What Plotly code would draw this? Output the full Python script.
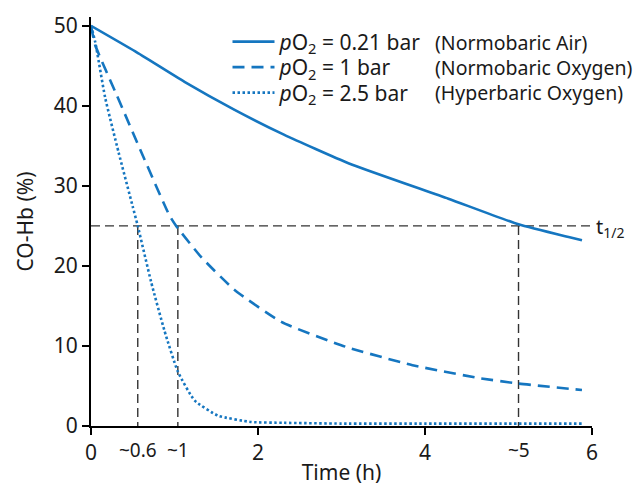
import plotly.graph_objects as go

# ---- data ----
t_air = [0, 0.53, 1.12, 1.72, 2.31, 3.09, 4.28, 5.12, 5.72, 5.88]
co_air = [50, 46.8, 43.0, 39.5, 36.4, 32.8, 28.4, 25.2, 23.6, 23.2]

t_nbo = [0, 0.05, 0.31, 0.62, 0.94, 1.02, 1.32, 1.72, 2.28, 3.05, 3.85, 4.64, 5.12, 5.88]
co_nbo = [50, 47.6, 41.3, 33.8, 26.3, 25.0, 21.1, 17.0, 13.0, 9.9, 7.6, 6.0, 5.3, 4.5]

t_hbo = [0, 0.05, 0.17, 0.33, 0.5, 0.56, 0.72, 0.88, 1.04, 1.24, 1.52, 1.92, 2.31, 3.0, 4.0, 5.0, 5.88]
co_hbo = [50, 48.0, 41.0, 34.2, 27.4, 25.0, 18.0, 11.9, 6.8, 3.2, 1.3, 0.5, 0.4, 0.3, 0.3, 0.3, 0.3]

half_level = 25
half_times = [0.56, 1.04, 5.12]
half_labels = ["~0.6", "~1", "~5"]

x_ticks = [0, 2, 4, 6]
y_ticks = [0, 10, 20, 30, 40, 50]

series_names = [
    "<i>p</i>O<sub>2</sub> = 0.21 bar",
    "<i>p</i>O<sub>2</sub> = 1 bar",
    "<i>p</i>O<sub>2</sub> = 2.5 bar",
]
series_desc = ["(Normobaric Air)", "(Normobaric Oxygen)", "(Hyperbaric Oxygen)"]

BLUE = "#1576c0"
FONT = "Noto Sans"
TXT = "#1a1a1a"

# layout geometry (pixels)
L, R, T, B = 91, 46, 17, 60
W, H = 638, 486
PW, PH = W - L - R, H - T - B
row_px = [42, 67.5, 93]          # legend row centres (px from top)
legend_left_px = 227.5
desc_left_px = 433


def py(p):
    return (H - B - p) / PH


def px(p):
    return (p - L) / PW


fig = go.Figure()

# reference lines (half-life)
fig.add_trace(go.Scatter(x=[0, 5.98], y=[half_level, half_level], mode="lines",
                         line=dict(color="#333333", width=1.4, dash="9px,5px"),
                         showlegend=False, hoverinfo="skip"))
vx, vy = [], []
for t in half_times:
    vx += [t, t, None]
    vy += [half_level, 0, None]
fig.add_trace(go.Scatter(x=vx, y=vy, mode="lines",
                         line=dict(color="#333333", width=1.4, dash="9px,5px"),
                         showlegend=False, hoverinfo="skip"))

fig.add_trace(go.Scatter(x=t_air, y=co_air, mode="lines", name=series_names[0], legend="legend",
                         line=dict(color=BLUE, width=2.6, shape="spline", smoothing=0.5)))
fig.add_trace(go.Scatter(x=t_nbo, y=co_nbo, mode="lines", name=series_names[1], legend="legend2",
                         line=dict(color=BLUE, width=2.6, dash="12px,7px", shape="spline", smoothing=0.5)))
fig.add_trace(go.Scatter(x=t_hbo, y=co_hbo, mode="lines", name=series_names[2], legend="legend3",
                         line=dict(color=BLUE, width=2.6, dash="2.5px,2.5px", shape="spline", smoothing=0.5)))

annotations = []
for t, lab in zip(half_times, half_labels):
    annotations.append(dict(x=t, y=0, xref="x", yref="y", text=lab, showarrow=False,
                            xanchor="center", yanchor="top", yshift=-9,
                            font=dict(family=FONT, size=19, color=TXT)))
annotations.append(dict(x=6, y=half_level, xref="x", yref="y", text="t<sub>1/2</sub>",
                        showarrow=False, xanchor="left", yanchor="middle", xshift=2, yshift=-2,
                        font=dict(family=FONT, size=20, color=TXT)))
for desc, rp in zip(series_desc, row_px):
    annotations.append(dict(x=px(desc_left_px), y=py(rp), xref="paper", yref="paper", text=desc,
                            showarrow=False, xanchor="left", yanchor="middle",
                            font=dict(family=FONT, size=19.5, color=TXT)))

legend_common = dict(x=px(legend_left_px), xanchor="left", yanchor="middle",
                     bgcolor="rgba(0,0,0,0)", font=dict(family=FONT, size=21, color=TXT),
                     itemwidth=42, borderwidth=0)

fig.update_layout(
    width=W, height=H,
    margin=dict(l=L, r=R, t=T, b=B, autoexpand=False),
    paper_bgcolor="white", plot_bgcolor="white",
    font=dict(family=FONT, size=20, color=TXT),
    showlegend=True,
    legend=dict(y=py(row_px[0]), **legend_common),
    legend2=dict(y=py(row_px[1]), **legend_common),
    legend3=dict(y=py(row_px[2]), **legend_common),
    annotations=annotations,
    xaxis=dict(range=[0, 6], tickvals=x_ticks, showgrid=False, zeroline=False,
               showline=True, linecolor="black", linewidth=2,
               ticks="outside", ticklen=7, tickwidth=2, tickcolor="black",
               tickfont=dict(family=FONT, size=21, color=TXT), automargin=False,
               title=dict(text="Time (h)", font=dict(family=FONT, size=21, color=TXT), standoff=4)),
    yaxis=dict(range=[0, 51.1], tickvals=y_ticks, showgrid=False, zeroline=False,
               showline=True, linecolor="black", linewidth=2,
               ticks="outside", ticklen=7, tickwidth=2, tickcolor="black",
               tickfont=dict(family=FONT, size=21, color=TXT), automargin=False,
               title=dict(text="CO-Hb (%)", font=dict(family=FONT, size=21, color=TXT), standoff=14)),
)

fig.write_html("out.html", config={"displayModeBar": False},
               post_script="document.body.style.margin='0';")
